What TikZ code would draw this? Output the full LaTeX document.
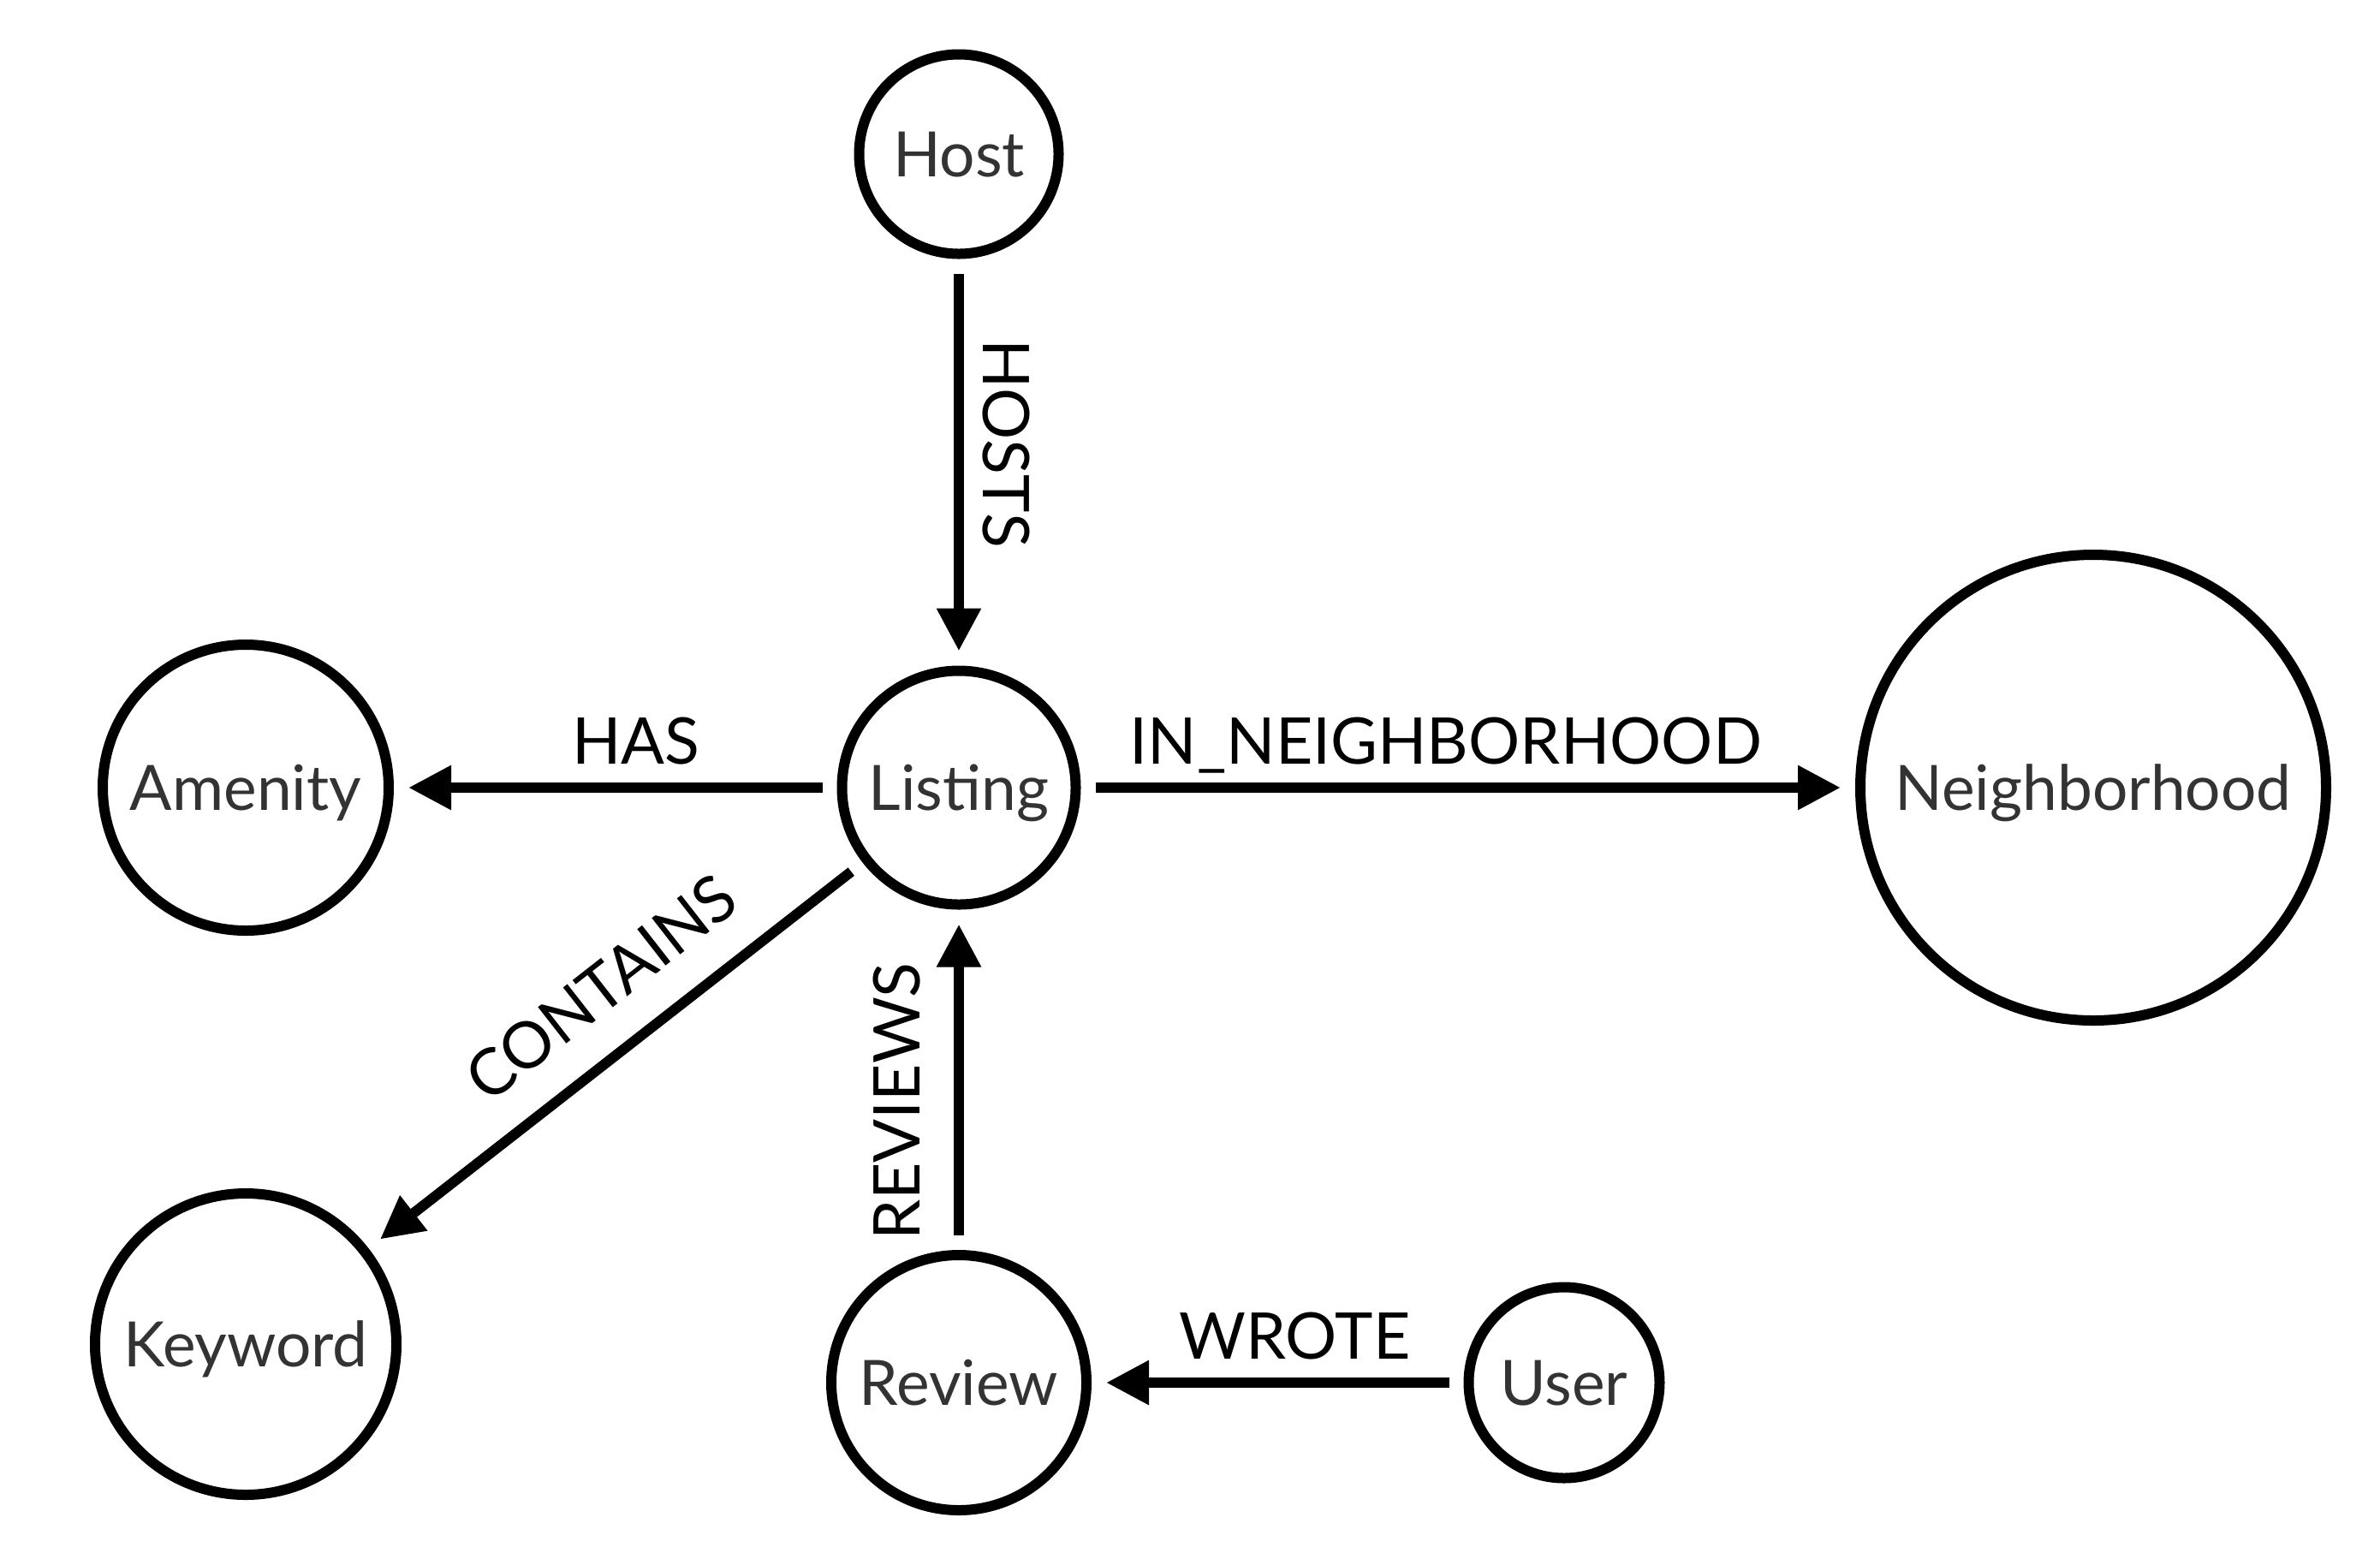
\documentclass[tikz,border=0pt]{standalone}
\usepackage{fontspec}
\setmainfont{Lato}
\usetikzlibrary{arrows.meta}
\begin{document}
\begin{tikzpicture}[line join=bevel,font=\fontsize{21.4}{25}\selectfont,
	entite/.style={circle,draw,line width=0.12cm,inner sep=0pt,outer sep=0.23cm,text=black!80,font=\fontsize{20.8}{25}\selectfont,text height=0.53cm,text depth=0pt},
	relation/.style={line width=0.12cm,-{Triangle[length=0.5cm,width=0.49cm]}},
	etiquette/.style={sloped,above=0.22cm,inner sep=0pt,text height=0.54cm,text depth=0pt,pos=0.45}]
		\useasboundingbox (0,0) rectangle (27.80,-18.06);
		\foreach \Coord/\Nom/\Taille in {(11.20,-1.80)/Host/2.33,(11.20,-9.20)/Listing/2.73,(2.87,-9.20)/Amenity/3.34,(2.87,-15.70)/Keyword/3.52,(24.45,-9.20)/Neighborhood/5.44,(11.20,-16.15)/Review/2.98,(18.27,-16.15)/User/2.23}
		\node[entite,minimum size=\Taille cm] (\Nom) at \Coord {\Nom} ;
		\draw[relation] (Host) -- node[etiquette] {HOSTS} (Listing) ;
		\draw[relation] (Listing) -- node[etiquette] {HAS} (Amenity) ;
		\draw[relation] (Listing) -- node[etiquette,pos=0.47] {IN\_NEIGHBORHOOD} (Neighborhood) ;
		\draw[relation] (Listing) -- node[etiquette,above=0.18cm] {CONTAINS} (Keyword) ;
		\draw[relation] (Review) -- node[etiquette,above=0.18cm,pos=0.43] {REVIEWS} (Listing) ;
		\draw[relation] (User) -- node[etiquette] {WROTE} (Review) ;
	\end{tikzpicture}
\end{document}
